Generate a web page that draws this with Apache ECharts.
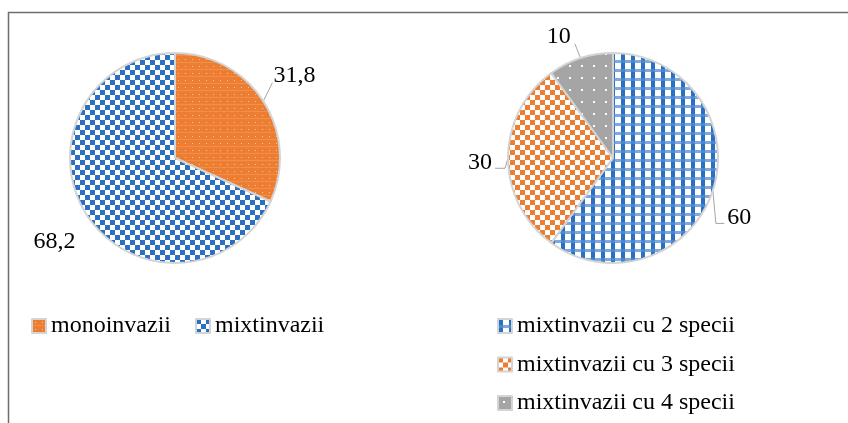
<!DOCTYPE html>
<html>
<head>
<meta charset="utf-8">
<script src="https://cdn.jsdelivr.net/npm/echarts@6/dist/echarts.min.js"></script>
<style>
  html, body { margin: 0; padding: 0; background: #fff; }
  #main { width: 848px; height: 423px; }
</style>
</head>
<body>
<div id="main"></div>
<script>
// date: invazii (%)
var leftNames = ['monoinvazii', 'mixtinvazii']
var leftValues = [31.8, 68.2]
var rightNames = ['mixtinvazii cu 2 specii', 'mixtinvazii cu 3 specii', 'mixtinvazii cu 4 specii']
var rightValues = [60, 30, 10]

var BLUE = '#2a6fc2'
var ORANGE = '#ed7d31'
var GREY = '#a5a5a5'

// modele de umplere (hasura ca in Excel)
function makePattern (w, h, draw) {
  var c = document.createElement('canvas')
  c.width = w
  c.height = h
  var ctx = c.getContext('2d')
  draw(ctx)
  return { image: c, repeat: 'repeat' }
}

// tabla de sah albastru / alb
var blueChecker = makePattern(10, 10, function (ctx) {
  ctx.fillStyle = '#fff'
  ctx.fillRect(0, 0, 10, 10)
  ctx.fillStyle = BLUE
  ctx.fillRect(0, 0, 5, 5)
  ctx.fillRect(5, 5, 5, 5)
})

// portocaliu cu puncte albe
var orangeDots = makePattern(7, 7, function (ctx) {
  ctx.fillStyle = ORANGE
  ctx.fillRect(0, 0, 7, 7)
  ctx.fillStyle = 'rgba(255,255,255,0.55)'
  ctx.fillRect(3, 3, 1, 1)
  ctx.fillStyle = 'rgba(255,255,255,0.15)'
  ctx.fillRect(0, 6, 7, 1)
})

// carouri albastre (plaid)
var bluePlaid = makePattern(10, 9, function (ctx) {
  ctx.fillStyle = '#fff'
  ctx.fillRect(0, 0, 10, 9)
  ctx.fillStyle = '#7ea9de'
  ctx.fillRect(0, 6, 10, 3)
  ctx.fillStyle = BLUE
  ctx.fillRect(1, 0, 4, 6)
  ctx.fillStyle = '#4a86d0'
  ctx.fillRect(1, 6, 4, 3)
})

// tabla de sah portocaliu / alb
var orangeChecker = makePattern(10, 10, function (ctx) {
  ctx.fillStyle = '#fff'
  ctx.fillRect(0, 0, 10, 10)
  ctx.fillStyle = ORANGE
  ctx.fillRect(0, 0, 5, 5)
  ctx.fillRect(5, 5, 5, 5)
})

// gri cu puncte albe rare
var greyDots = makePattern(12, 12, function (ctx) {
  ctx.fillStyle = GREY
  ctx.fillRect(0, 0, 12, 12)
  ctx.fillStyle = '#fff'
  ctx.fillRect(5, 5, 2, 2)
})

var leftFills = [orangeDots, blueChecker]
var rightFills = [bluePlaid, orangeChecker, greyDots]

var FONT = 'Liberation Serif'

function fmt (p) {
  return String(p.value).replace('.', ',')
}

var leftData = leftNames.map(function (n, i) {
  return { name: n, value: leftValues[i], itemStyle: { color: leftFills[i] } }
})
leftData[1].labelLine = { show: false }

var rightData = rightNames.map(function (n, i) {
  return { name: n, value: rightValues[i], itemStyle: { color: rightFills[i] } }
})

// mutari fine ale etichetelor: [dx, dy, cot]
var leftShift = [[-11, -19, false], [10, 20, false]]
var rightShift = [[-10, 24, true], [9, 5, true], [7, -10, false]]

function layoutFor (shifts) {
  return function (p) {
    var s = shifts[p.dataIndex]
    var out = { dx: s[0], dy: s[1] }
    var pts = p.labelLinePoints
    if (pts && pts.length) {
      var r = p.labelRect
      var rx = r.x + s[0]
      var ry = r.y + s[1]
      var p0 = pts[0]
      var right = rx > p0[0]
      var end
      if (s[2]) {
        end = [right ? rx - 3 : rx + r.width + 3, ry + r.height * 0.72]
        out.labelLinePoints = [p0, [p0[0] + (right ? 3 : -3), end[1]], end]
      } else {
        end = [right ? rx - 1 : rx + r.width + 4, ry + r.height - 5]
        out.labelLinePoints = [p0, end, end]
      }
    }
    return out
  }
}

var chart = echarts.init(document.getElementById('main'))

var labelStyle = {
  show: true,
  position: 'outside',
  formatter: fmt,
  fontFamily: FONT,
  fontSize: 24,
  color: '#000'
}

var option = {
  backgroundColor: '#fff',
  animation: false,
  graphic: [{
    type: 'rect',
    shape: { x: 8.5, y: 12.5, width: 1000, height: 1000 },
    style: { fill: 'none', stroke: '#6d6d6d', lineWidth: 1.5 },
    silent: true
  }],
  legend: [{
    data: leftNames,
    left: 31,
    top: 314,
    padding: 0,
    orient: 'horizontal',
    itemWidth: 14,
    itemHeight: 14,
    itemGap: 24,
    icon: 'rect',
    textStyle: { fontFamily: FONT, fontSize: 24, color: '#000' }
  }, {
    data: rightNames,
    left: 497,
    top: 314,
    padding: 0,
    orient: 'vertical',
    itemWidth: 14,
    itemHeight: 14,
    itemGap: 14.5,
    icon: 'rect',
    textStyle: { fontFamily: FONT, fontSize: 24, color: '#000' }
  }],
  series: [{
    type: 'pie',
    center: [175, 158],
    radius: 105,
    startAngle: 90,
    data: leftData,
    itemStyle: { borderColor: '#d4d4d4', borderWidth: 2 },
    label: labelStyle,
    labelLine: { show: true, length: 12, length2: 6, lineStyle: { color: '#a6a6a6', width: 1 } },
    labelLayout: layoutFor(leftShift),
    emphasis: { disabled: true }
  }, {
    type: 'pie',
    center: [613, 158],
    radius: 105,
    startAngle: 90,
    data: rightData,
    itemStyle: { borderColor: '#d4d4d4', borderWidth: 2 },
    label: labelStyle,
    labelLine: { show: true, length: 12, length2: 8, lineStyle: { color: '#a6a6a6', width: 1 } },
    labelLayout: layoutFor(rightShift),
    emphasis: { disabled: true }
  }]
}
chart.setOption(option)
</script>
</body>
</html>
